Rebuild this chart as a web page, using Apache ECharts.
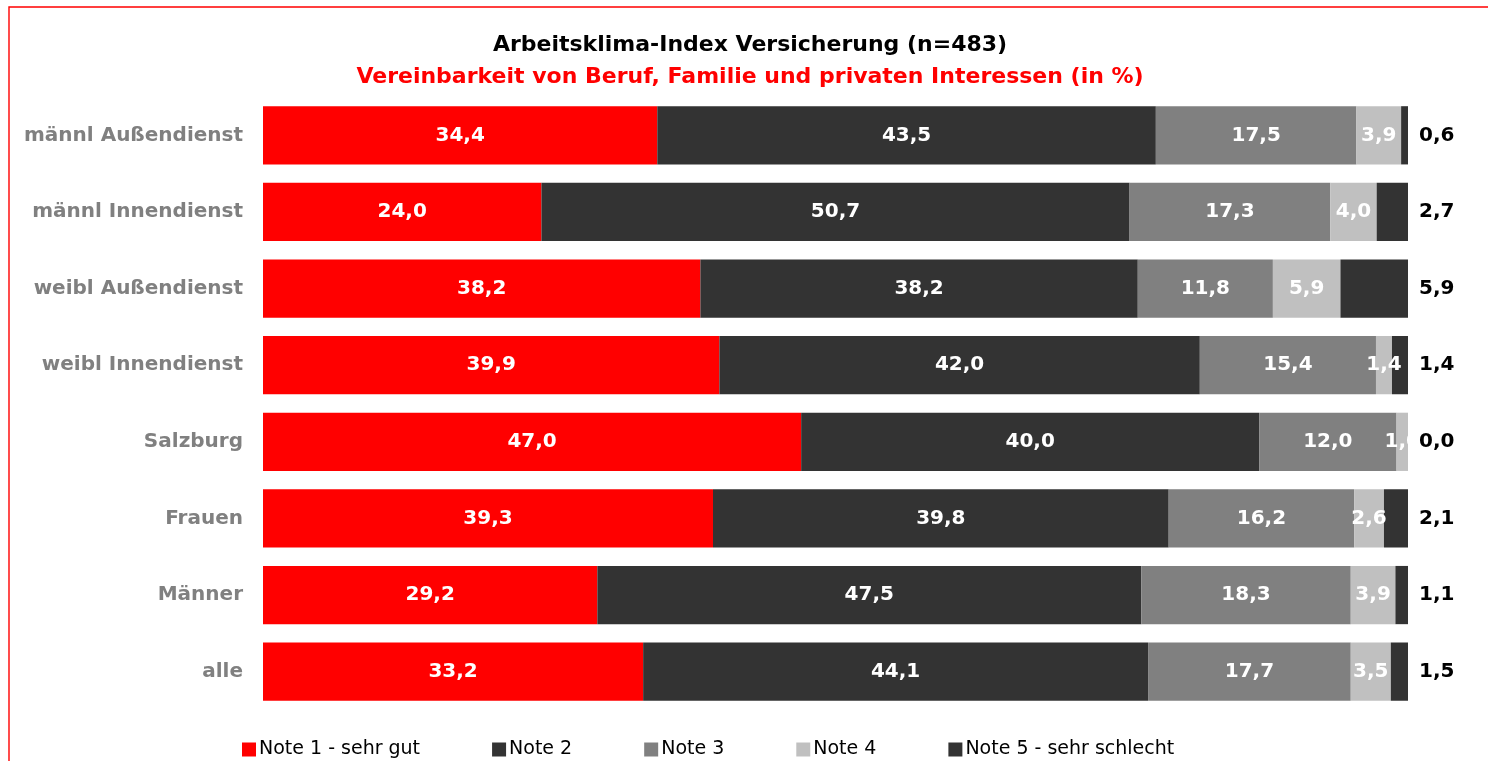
<!DOCTYPE html>
<html>
<head>
<meta charset="utf-8">
<script src="https://cdn.jsdelivr.net/npm/echarts@6/dist/echarts.min.js"></script>
<style>html,body{margin:0;padding:0;background:#fff;}#c{width:1488px;height:761px;}</style>
</head>
<body>
<div id="c"></div>
<script>
const categories = ['männl Außendienst','männl Innendienst','weibl Außendienst','weibl Innendienst','Salzburg','Frauen','Männer','alle'];
const seriesNames = ['Note 1 - sehr gut','Note 2','Note 3','Note 4','Note 5 - sehr schlecht'];
const note1 = [34.4, 24.0, 38.2, 39.9, 47.0, 39.3, 29.2, 33.2];
const note2 = [43.5, 50.7, 38.2, 42.0, 40.0, 39.8, 47.5, 44.1];
const note3 = [17.5, 17.3, 11.8, 15.4, 12.0, 16.2, 18.3, 17.7];
const note4 = [3.9, 4.0, 5.9, 1.4, 1.0, 2.6, 3.9, 3.5];
const note5 = [0.6, 2.7, 5.9, 1.4, 0.0, 2.1, 1.1, 1.5];
const colors = ['#FF0000','#333333','#808080','#C0C0C0','#333333'];

const allData = [note1, note2, note3, note4, note5];
// 100% stacked: each row is scaled to its own total, labels show the raw values
const totals = categories.map((_, j) => allData.reduce((s, arr) => s + arr[j], 0));
const fmtRaw = v => v.toFixed(1).replace('.', ',');
const BOLD = 'DejaVu Sans';
const series = allData.map((d, i) => ({
  name: seriesNames[i],
  type: 'bar',
  stack: 'total',
  barWidth: '76%',
  data: d.map((v, j) => ({ value: v / totals[j] * 100, raw: v })),
  itemStyle: { color: colors[i] },
  label: i < 4 ? {
    show: true, position: 'inside', formatter: p => fmtRaw(p.data.raw),
    color: '#fff', fontFamily: BOLD, fontWeight: 'bold', fontSize: 20
  } : {
    show: true, position: 'right', distance: 11, formatter: p => fmtRaw(p.data.raw),
    color: '#000', fontFamily: BOLD, fontWeight: 'bold', fontSize: 20
  }
}));

const chart = echarts.init(document.getElementById('c'), null, {renderer: 'canvas'});
chart.setOption({
  animation: false,
  backgroundColor: '#fff',
  title: [
    { text: 'Arbeitsklima-Index Versicherung (n=483)', left: 745, textAlign: 'center', top: 29,
      textStyle: { fontFamily: BOLD, fontWeight: 'bold', fontSize: 22, color: '#000' } },
    { text: 'Vereinbarkeit von Beruf, Familie und privaten Interessen (in %)', left: 745, textAlign: 'center', top: 61,
      textStyle: { fontFamily: BOLD, fontWeight: 'bold', fontSize: 22, color: '#FF0000' } }
  ],
  graphic: [{
    type: 'rect', silent: true, z: 100,
    shape: { x: 9, y: 7, width: 1600, height: 1000 },
    style: { fill: 'transparent', stroke: '#FF0000', lineWidth: 1.4 }
  }],
  legend: {
    top: 735, left: 237, itemGap: 72, itemWidth: 14, itemHeight: 14,
    icon: 'rect',
    textStyle: { fontFamily: 'DejaVu Sans', fontSize: 19, color: '#000', padding: [0,0,0,-2] },
    data: seriesNames
  },
  grid: { left: 263, right: 80, top: 97, bottom: 51, containLabel: false },
  xAxis: { type: 'value', min: 0, max: 100, show: false },
  yAxis: {
    type: 'category', data: categories, inverse: true,
    axisLine: { show: false }, axisTick: { show: false },
    axisLabel: { margin: 20, color: '#808080', fontFamily: BOLD, fontWeight: 'bold', fontSize: 20 }
  },
  series: series
});
</script>
</body>
</html>
